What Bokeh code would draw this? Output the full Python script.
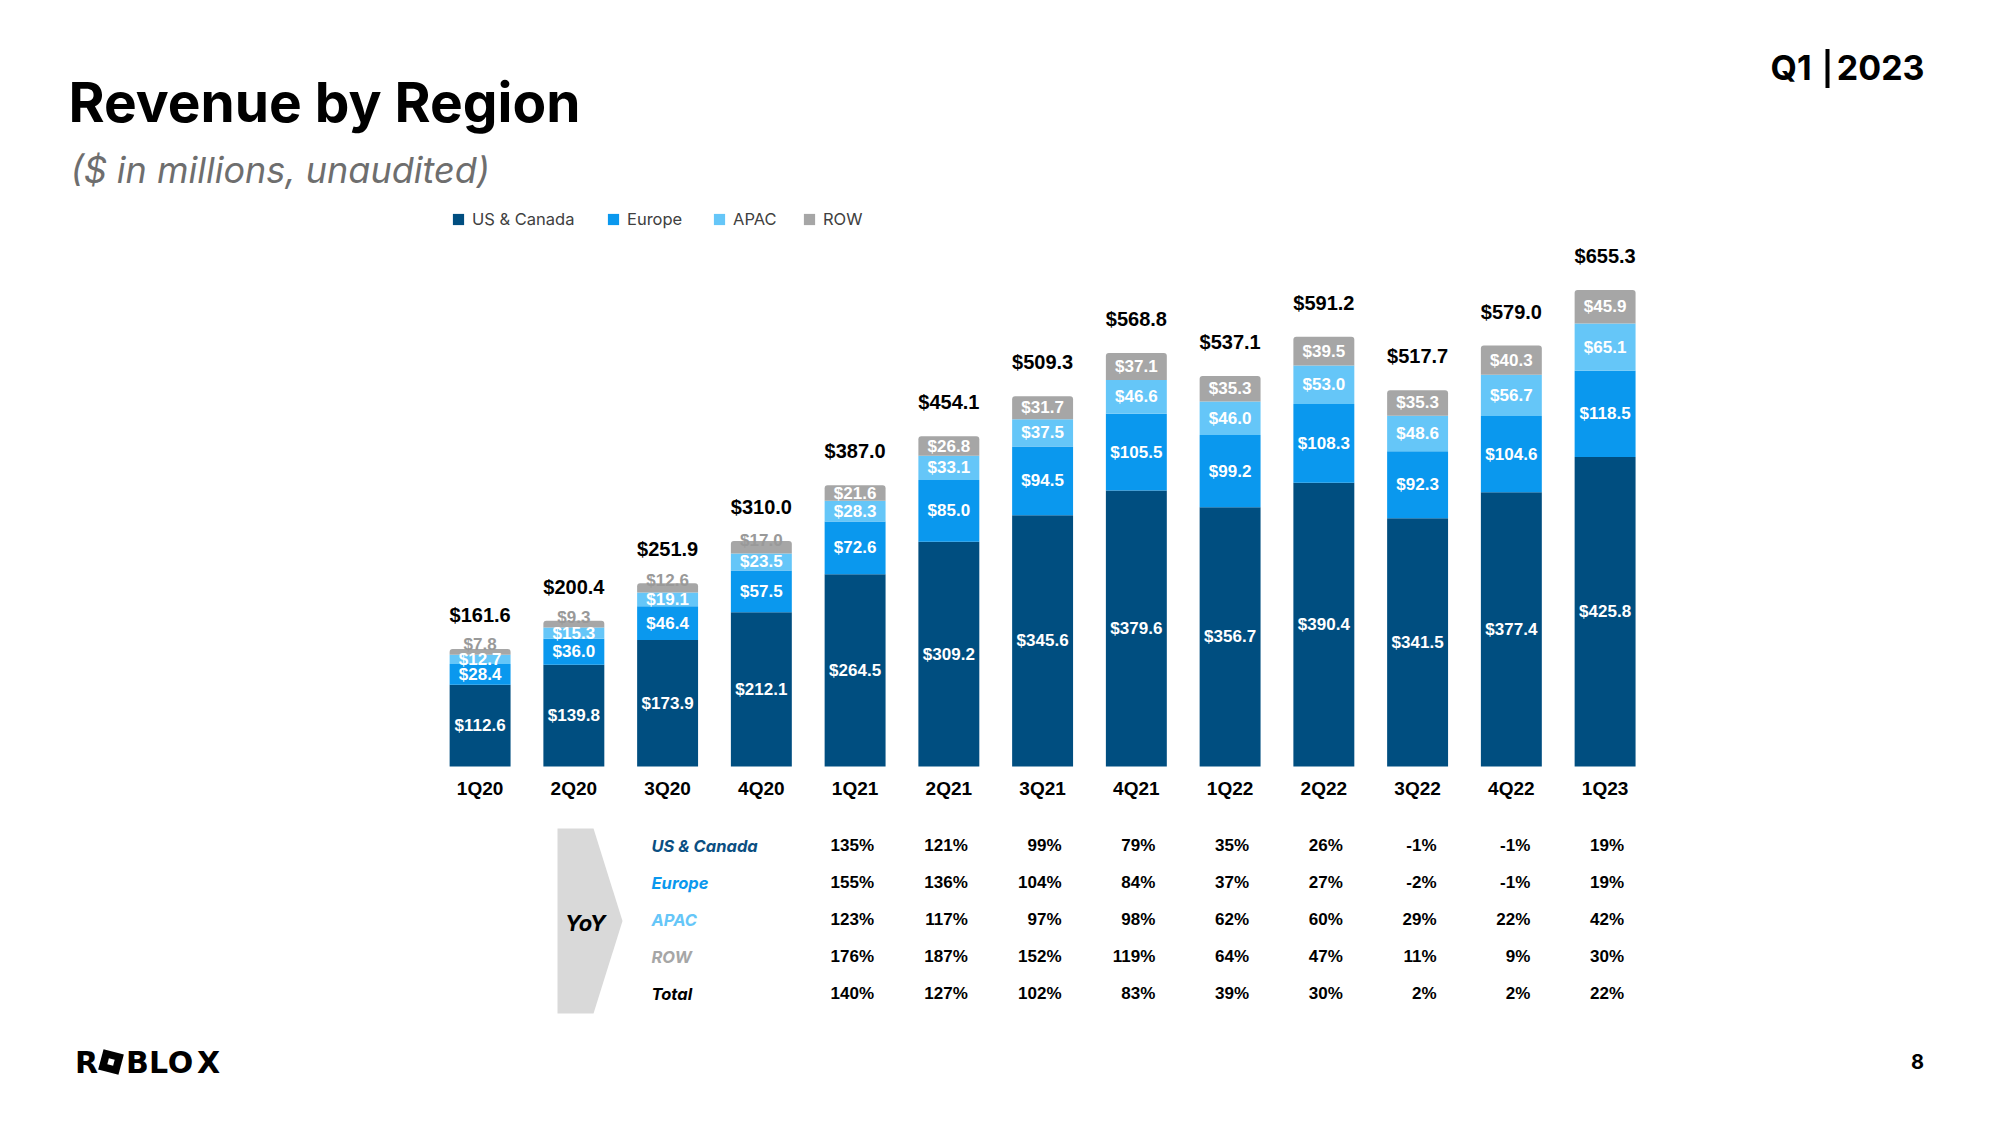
from bokeh.plotting import figure
from bokeh.models import ColumnDataSource, Range1d, Legend, LegendItem
from bokeh.core.properties import value
from bokeh.embed import file_html
from bokeh.resources import INLINE

# ---------------- data ----------------
quarters = ["1Q20", "2Q20", "3Q20", "4Q20", "1Q21", "2Q21", "3Q21", "4Q21",
            "1Q22", "2Q22", "3Q22", "4Q22", "1Q23"]
us_canada = [112.6, 139.8, 173.9, 212.1, 264.5, 309.2, 345.6, 379.6, 356.7, 390.4, 341.5, 377.4, 425.8]
europe = [28.4, 36.0, 46.4, 57.5, 72.6, 85.0, 94.5, 105.5, 99.2, 108.3, 92.3, 104.6, 118.5]
apac = [12.7, 15.3, 19.1, 23.5, 28.3, 33.1, 37.5, 46.6, 46.0, 53.0, 48.6, 56.7, 65.1]
row = [7.8, 9.3, 12.6, 17.0, 21.6, 26.8, 31.7, 37.1, 35.3, 39.5, 35.3, 40.3, 45.9]
totals = [161.6, 200.4, 251.9, 310.0, 387.0, 454.1, 509.3, 568.8, 537.1, 591.2, 517.7, 579.0, 655.3]

series_names = ["US & Canada", "Europe", "APAC", "ROW"]
series_colors = ["#004E80", "#0A98EE", "#65C6F8", "#A6A6A6"]

yoy_quarters = quarters[4:]
yoy_us = [135, 121, 99, 79, 35, 26, -1, -1, 19]
yoy_europe = [155, 136, 104, 84, 37, 27, -2, -1, 19]
yoy_apac = [123, 117, 97, 98, 62, 60, 29, 22, 42]
yoy_row = [176, 187, 152, 119, 64, 47, 11, 9, 30]
yoy_total = [140, 127, 102, 83, 39, 30, 2, 2, 22]
yoy_labels = ["US & Canada", "Europe", "APAC", "ROW", "Total"]
yoy_label_colors = ["#0B4F82", "#0A98EE", "#65C6F8", "#A6A6A6", "#000000"]

# ---------------- geometry ----------------
W, H = 1984, 1109
OFF = 0
PX_PER_Q = 93.75
PX_PER_M = 0.727
FIRST_BAR_PX = 479.6
BASE_PX = 766
xs = -(FIRST_BAR_PX - OFF) / PX_PER_Q
ys = -(H - (BASE_PX - OFF)) / PX_PER_M


def X(px):
    return (px - OFF) / PX_PER_Q + xs


def Y(py):
    return (H - (py - OFF)) / PX_PER_M + ys


p = figure(width=W, height=H, x_range=Range1d(xs, xs + W / PX_PER_Q),
           y_range=Range1d(ys, ys + H / PX_PER_M), output_backend="svg",
           toolbar_location=None, x_axis_type=None, y_axis_type=None,
           min_border=0, outline_line_color=None)
p.grid.visible = False

ARIAL = value("Liberation Sans")
INTER = value("Inter")

idx = list(range(len(quarters)))
src = ColumnDataSource(dict(x=idx, us=us_canada, eu=europe, ap=apac, rw=row))
rs = p.vbar_stack(["us", "eu", "ap", "rw"], x="x", width=0.65, source=src,
                  fill_color=series_colors, line_color=None)
rs[3].glyph.border_radius = (3, 3, 0, 0)

# segment labels
seg_x, seg_y, seg_t = [], [], []
early_x, early_y, early_t = [], [], []
for i in idx:
    bottom = 0.0
    for s, vals in enumerate([us_canada, europe, apac, row]):
        v = vals[i]
        c = bottom + v / 2
        if s == 3 and i < 4:
            early_x.append(i); early_y.append(c); early_t.append(f"${v:.1f}")
        else:
            seg_x.append(i); seg_y.append(c); seg_t.append(f"${v:.1f}")
        bottom += v

p.text(x=seg_x, y=seg_y, text=seg_t, text_color="white", text_font=ARIAL,
       text_font_style="bold", text_font_size="17px", text_align="center",
       text_baseline="middle")
p.text(x=early_x, y=early_y, text=early_t, text_color="#999999", text_font=ARIAL,
       text_font_style="bold", text_font_size="17px", text_align="center",
       text_baseline="middle", y_offset=-7)

# totals
p.text(x=idx, y=totals, text=[f"${t:.1f}" for t in totals], text_color="black",
       text_font=ARIAL, text_font_style="bold", text_font_size="20px",
       text_align="center", text_baseline="middle", y_offset=-34)

# quarter labels
p.text(x=idx, y=[Y(788)] * len(idx), text=quarters, text_color="black",
       text_font=ARIAL, text_font_style="bold", text_font_size="19px",
       text_align="center", text_baseline="middle")

# legend: one entry per series at the reference positions
legend_px = [451, 606, 712, 802]
for n, r, lx in zip(series_names, rs, legend_px):
    lg = Legend(items=[LegendItem(label=n, renderers=[r])],
                orientation="horizontal", location=(lx - OFF, H - (229 - OFF)),
                padding=0, margin=0, spacing=0, glyph_width=14, glyph_height=14,
                label_height=14, label_standoff=7, label_text_font="Inter",
                label_text_font_size="16.5px", label_text_color="#404040",
                border_line_color=None, background_fill_alpha=0)
    p.add_layout(lg)

# YoY table
p.patch(x=[X(557), X(593), X(622), X(593), X(557)],
        y=[Y(828), Y(828), Y(920.5), Y(1013), Y(1013)], fill_color="#D9D9D9",
        line_color=None)
p.text(x=[X(585)], y=[Y(922)], text=["YoY"], text_color="black", text_font=INTER,
       text_font_style="bold italic", text_font_size="22px", text_align="center",
       text_baseline="middle")
row_py = [845, 882, 919, 956, 993]
yoy_x = list(range(4, len(quarters)))
for lbl, col, py, vals in zip(yoy_labels, yoy_label_colors, row_py,
                              [yoy_us, yoy_europe, yoy_apac, yoy_row, yoy_total]):
    p.text(x=[X(651)], y=[Y(py)], text=[lbl], text_color=col, text_font=INTER,
           text_font_style="bold italic", text_font_size="16.5px", text_align="left",
           text_baseline="middle")
    p.text(x=yoy_x, y=[Y(py)] * len(yoy_x), text=[f"{v}%" for v in vals],
           text_color="black", text_font=ARIAL, text_font_style="bold",
           text_font_size="17px", text_align="right", text_baseline="middle",
           x_offset=19)

# titles
p.text(x=[X(68)], y=[Y(101)], text=["Revenue by Region"], text_color="black",
       text_font=INTER, text_font_style="bold", text_font_size="55px",
       text_align="left", text_baseline="middle")
p.text(x=[X(70)], y=[Y(169)], text=["($ in millions, unaudited)"], text_color="#6E6E6E",
       text_font=INTER, text_font_style="italic", text_font_size="36px",
       text_align="left", text_baseline="middle")
p.text(x=[X(1770)], y=[Y(67)], text=["Q1"], text_color="black", text_font=INTER,
       text_font_style="bold", text_font_size="34px", text_align="left",
       text_baseline="middle")
p.text(x=[X(1924)], y=[Y(67)], text=["2023"], text_color="black", text_font=INTER,
       text_font_style="bold", text_font_size="34px", text_align="right",
       text_baseline="middle")
p.rect(x=[X(1827)], y=[Y(68)], width=4, height=39, width_units="screen",
       height_units="screen", fill_color="black", line_color=None)
p.text(x=[X(1917)], y=[Y(1061)], text=["8"], text_color="black", text_font=INTER,
       text_font_style="bold", text_font_size="20px", text_align="center",
       text_baseline="middle")

# logo
for ch, cx in zip(["R", "B", "L", "O", "X"], [86, 137, 158, 180, 208]):
    p.text(x=[X(cx)], y=[Y(1062)], text=[ch], text_color="black",
           text_font=value("DejaVu Sans"), text_font_style="bold",
           text_font_size="30px", text_align="center", text_baseline="middle")
p.rect(x=[X(110.5)], y=[Y(1061.5)], width=21, height=21, angle=-0.26,
       width_units="screen", height_units="screen", fill_color="black", line_color=None)
p.rect(x=[X(110.5)], y=[Y(1061.5)], width=6, height=6, angle=-0.26,
       width_units="screen", height_units="screen", fill_color="white", line_color=None)

open("out.html", "w").write(file_html(p, INLINE))
